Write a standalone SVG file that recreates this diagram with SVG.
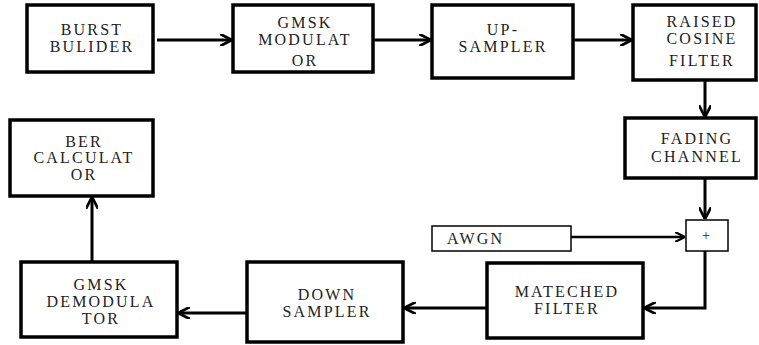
<svg xmlns="http://www.w3.org/2000/svg" width="759" height="345" viewBox="0 0 759 345">
<style>
.box{fill:#fff;stroke:#000;stroke-width:3.5}
.thin{fill:#fff;stroke:#000;stroke-width:1.5}
.t{font-family:'Liberation Serif','Times New Roman',serif;font-size:16px;letter-spacing:2.2px;fill:#222;text-anchor:middle}
.c{fill:none;stroke:#000;stroke-width:3}
</style>
<defs>
<marker id="ah" viewBox="0 0 10 10" refX="9" refY="5" markerWidth="4" markerHeight="4" orient="auto" markerUnits="strokeWidth">
<path d="M0,0 L10,5 L0,10" fill="none" stroke="#000" stroke-width="2.2"/>
</marker>
</defs>
<rect width="759" height="345" fill="#fff"/>
<g id="connectors">
<line class="c" x1="157" y1="40" x2="231" y2="40" marker-end="url(#ah)"/>
<line class="c" x1="373" y1="40" x2="430" y2="40" marker-end="url(#ah)"/>
<line class="c" x1="573" y1="40" x2="631" y2="40" marker-end="url(#ah)"/>
<line class="c" x1="705" y1="80" x2="705" y2="116" marker-end="url(#ah)"/>
<line class="c" x1="705" y1="178" x2="705" y2="218" marker-end="url(#ah)"/>
<line x1="571" y1="237" x2="684" y2="237" stroke="#000" stroke-width="2.5" marker-end="url(#ah)"/>
<polyline class="c" points="705,251 705,308 645,308" marker-end="url(#ah)"/>
<line class="c" x1="487" y1="308" x2="405" y2="308" marker-end="url(#ah)"/>
<line class="c" x1="247" y1="313" x2="179" y2="313" marker-end="url(#ah)"/>
<line class="c" x1="92" y1="262" x2="92" y2="198" marker-end="url(#ah)"/>
</g>
<g id="burst">
<rect class="box" x="27" y="5" width="126" height="67"/>
<text class="t" x="92" y="35">BURST</text>
<text class="t" x="92" y="52">BULIDER</text>
</g>
<g id="gmsk-mod">
<rect class="box" x="233" y="5" width="140" height="67"/>
<text class="t" x="305" y="28">GMSK</text>
<text class="t" x="305" y="45">MODULAT</text>
<text class="t" x="305" y="66">OR</text>
</g>
<g id="upsampler">
<rect class="box" x="432" y="5" width="141" height="73"/>
<text class="t" x="503" y="35">UP-</text>
<text class="t" x="503" y="52">SAMPLER</text>
</g>
<g id="raised-cosine">
<rect class="box" x="633" y="5" width="123" height="75"/>
<text class="t" x="702" y="27">RAISED</text>
<text class="t" x="702" y="44">COSINE</text>
<text class="t" x="702" y="66">FILTER</text>
</g>
<g id="fading">
<rect class="box" x="625" y="118" width="131" height="60"/>
<text class="t" x="697" y="144">FADING</text>
<text class="t" x="697" y="162">CHANNEL</text>
</g>
<g id="awgn">
<rect class="thin" x="432" y="226" width="139" height="25"/>
<text class="t" x="447" y="244" style="text-anchor:start">AWGN</text>
</g>
<g id="sum">
<rect class="thin" x="686" y="220" width="42" height="31"/>
<text x="706" y="240" style="font-family:'Liberation Serif',serif;font-size:14px;text-anchor:middle;fill:#222">+</text>
</g>
<g id="matched">
<rect class="box" x="487" y="263" width="156" height="75"/>
<text class="t" x="567" y="297">MATECHED</text>
<text class="t" x="567" y="314">FILTER</text>
</g>
<g id="down">
<rect class="box" x="247" y="262" width="156" height="80"/>
<text class="t" x="327" y="300">DOWN</text>
<text class="t" x="327" y="317">SAMPLER</text>
</g>
<g id="gmsk-demod">
<rect class="box" x="21" y="262" width="156" height="75"/>
<text class="t" x="101" y="290">GMSK</text>
<text class="t" x="101" y="307">DEMODULA</text>
<text class="t" x="101" y="324">TOR</text>
</g>
<g id="ber">
<rect class="box" x="10" y="120" width="143" height="76"/>
<text class="t" x="84" y="147">BER</text>
<text class="t" x="84" y="163">CALCULAT</text>
<text class="t" x="84" y="180">OR</text>
</g>
</svg>
